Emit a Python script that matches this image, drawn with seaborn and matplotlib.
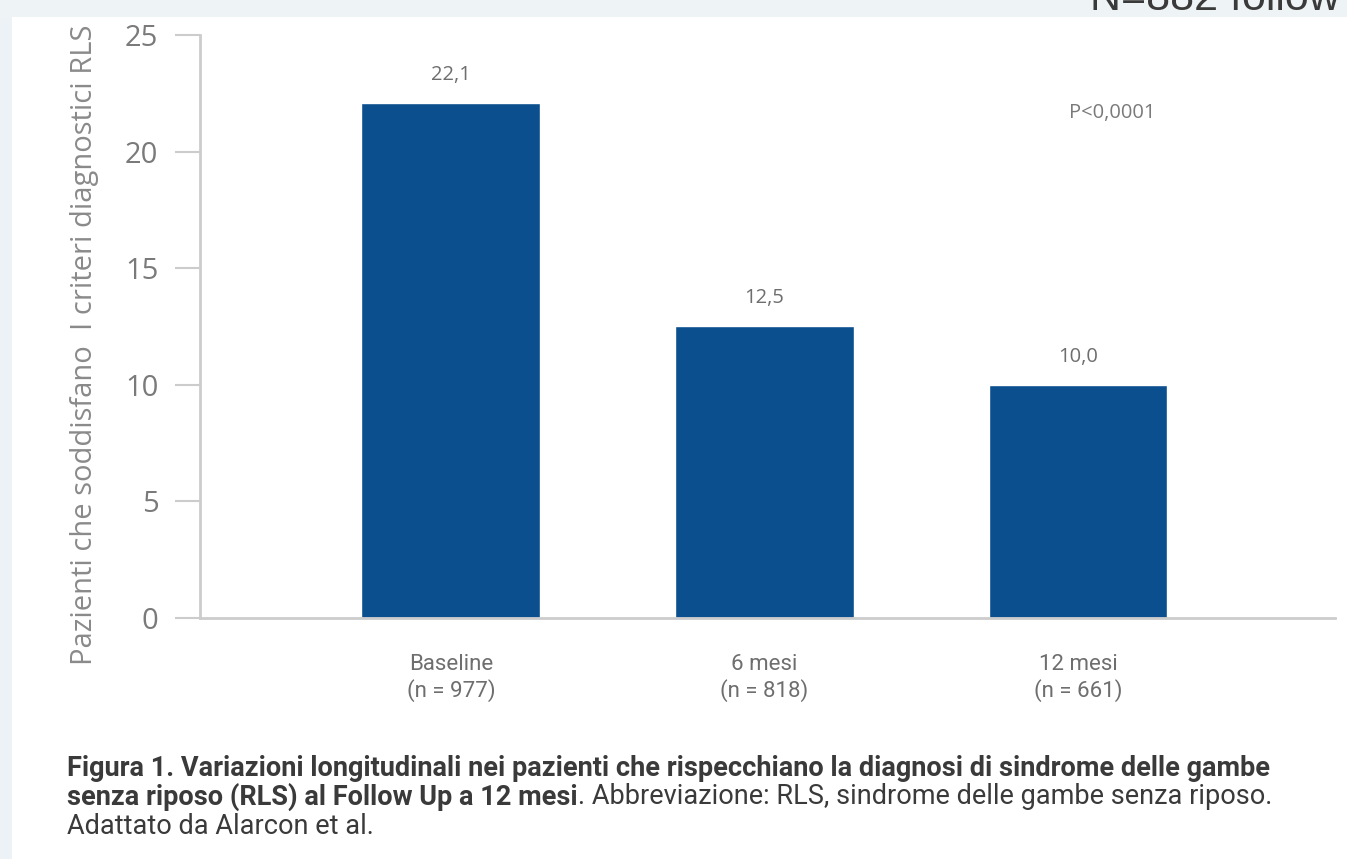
import matplotlib
matplotlib.use("Agg")
import matplotlib.pyplot as plt
import seaborn as sns
import pandas as pd
from matplotlib.patches import Rectangle

# Data
categories = ["Baseline", "6 mesi", "12 mesi"]
sample_sizes = ["977", "818", "661"]
values = [22.1, 12.5, 10.0]
value_labels = ["22,1", "12,5", "10,0"]
y_ticks = [0, 5, 10, 15, 20, 25]

BAR = "#0b4f8f"
AXIS = "#cccccc"
TICK_TXT = "#7a7a7a"
LABEL_TXT = "#6e6e6e"
CAPTION = "#3a3a3a"
NARROW = ["Roboto", "DejaVu Sans"]
SANS = ["Open Sans", "DejaVu Sans"]

sns.set_theme(style="white")
plt.rcParams["font.family"] = SANS

fig = plt.figure(figsize=(13.47, 8.59), dpi=100)
fig.patch.set_facecolor("white")

# page border strips
fig.add_artist(Rectangle((0, 0), 12 / 1347, 1, transform=fig.transFigure,
                         facecolor="#edf2f6", edgecolor="none", zorder=0))
fig.add_artist(Rectangle((0, 1 - 17 / 859), 1, 17 / 859, transform=fig.transFigure,
                         facecolor="#eef3f6", edgecolor="none", zorder=0))
fig.text(1090 / 1347, 1 - 10 / 859, "N=882 follow-up", fontsize=31,
         color="#3a3a3a", ha="left", va="baseline", family=["Liberation Sans", "DejaVu Sans"])

ax = fig.add_axes([200 / 1347, 1 - 618 / 859, 1135 / 1347, 583 / 859])
df = pd.DataFrame({"periodo": categories, "valore": values})
sns.barplot(data=df, x="periodo", y="valore", color=BAR, width=0.57,
            saturation=1, ax=ax)

ax.set_xlim(-0.80, 2.82)
ax.set_ylim(0, 25)
ax.set_yticks(y_ticks)
ax.set_yticklabels([str(t) for t in y_ticks], fontsize=21, color=TICK_TXT)
ax.tick_params(axis="y", length=18, width=1.5, color=AXIS, pad=12, left=True)
ax.tick_params(axis="x", length=0, pad=26)
ax.set_xticks(range(len(categories)))
ax.set_xticklabels([f"{c}\n(n = {n})" for c, n in zip(categories, sample_sizes)],
                   fontsize=16, color=LABEL_TXT, family=NARROW, linespacing=1.2)
ax.set_xlabel("")
ax.set_ylabel("")

for side in ["top", "right"]:
    ax.spines[side].set_visible(False)
for side in ["left", "bottom"]:
    ax.spines[side].set_color(AXIS)
    ax.spines[side].set_linewidth(2)

for i, (v, lab) in enumerate(zip(values, value_labels)):
    ax.annotate(lab, (i, v), xytext=(0, 13), textcoords="offset points",
                ha="center", va="bottom", fontsize=14.5, color=LABEL_TXT)

ax.text(2.11, 21.65, "P<0,0001", ha="center", va="center", fontsize=14.5, color=TICK_TXT)

fig.text(85 / 1347, 1 - 345 / 859, "Pazienti che soddisfano  I criteri diagnostici RLS",
         rotation=90, ha="center", va="center", fontsize=21, color="#8a8a8a")

# caption
cap_x = 67 / 1347
cap_size = 19.5
fig.text(cap_x, 1 - 768 / 859,
         "Figura 1. Variazioni longitudinali nei pazienti che rispecchiano la diagnosi di sindrome delle gambe",
         fontsize=cap_size, fontweight="bold", color=CAPTION, family=NARROW, va="center")
bold2 = fig.text(cap_x, 1 - 797 / 859, "senza riposo (RLS) al Follow Up a 12 mesi",
                 fontsize=cap_size, fontweight="bold", color=CAPTION, family=NARROW, va="center")
fig.canvas.draw()
bb = bold2.get_window_extent(fig.canvas.get_renderer())
fig.text(bb.x1 / fig.bbox.width, 1 - 797 / 859,
         ". Abbreviazione: RLS, sindrome delle gambe senza riposo.",
         fontsize=cap_size, color=CAPTION, family=NARROW, va="center")
fig.text(cap_x, 1 - 826 / 859, "Adattato da Alarcon et al.",
         fontsize=cap_size, color=CAPTION, family=NARROW, va="center")

fig.savefig("out.png", dpi=100)
